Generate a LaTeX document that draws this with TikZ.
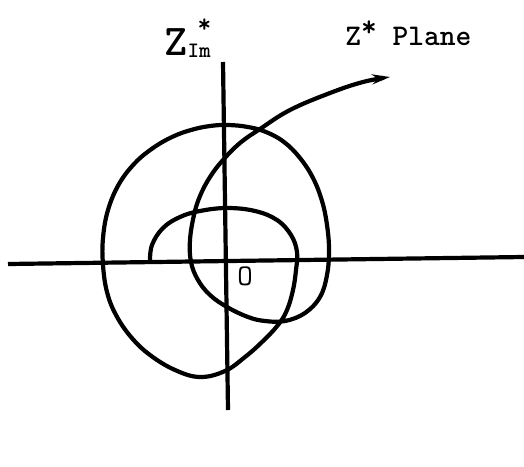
\documentclass[tikz,border=0pt]{standalone}
\usetikzlibrary{arrows.meta}
\begin{document}
\begin{tikzpicture}[x=0.5pt,y=-0.5pt,
  axis/.style={line width=2.1pt},
  curve/.style={line width=2.1pt, line join=round},
  lbl/.style={inner sep=0pt, font=\ttfamily\bfseries}]
\useasboundingbox (0,0) rectangle (524,466);
% axes
\coordinate (vtop) at (223,62);
\coordinate (vbot) at (228,410);
\coordinate (hleft) at (8,264);
\coordinate (hright) at (524,257);
\draw[axis] (vtop) -- (vbot);
\draw[axis] (hleft) -- (hright);
% spiral
\draw[curve, -{Stealth[length=9pt,width=5pt]}] plot[smooth, tension=0.65] coordinates {
 (150,262) (152,245) (163,228) (180,217) (200,211) (227,208) (255,211)
 (277,220) (291,235) (297,252) (296,270) (293,290) (287,310) (278,325)
 (262,342) (245,357) (225,371) (200,377) (175,370) (150,355) (131,337)
 (116,315) (107,292) (103,265) (103,238) (108,210) (119,184) (135,163)
 (153,148) (172,137) (191,130) (210,126) (228,125) (248,127) (266,132)
 (284,142) (300,158) (313,178) (322,201) (327,225) (329,250) (327,275)
 (320,297) (305,313) (285,321) (265,321) (248,317) (227,307) (210,295)
 (198,280) (191,262) (190,240) (194,215) (200,196) (210,177) (223,160)
 (240,143) (260,129) (290,110) (330,93) (363,82) (390,77)};
% labels
\node[lbl, anchor=base west] (zim) at (164,55)
  {{\fontsize{22pt}{26pt}\selectfont Z}\rlap{\hspace{5pt}\raisebox{11.5pt}{\fontsize{13pt}{15pt}\selectfont *}}\raisebox{-1pt}{\fontsize{11pt}{13pt}\selectfont Im}};
\node[lbl, anchor=base west, font=\fontsize{15pt}{18pt}\ttfamily\bfseries] (plane) at (345,45)
  {Z\raisebox{0.3em}{*} Plane};
\node[inner sep=0pt, font=\fontsize{15pt}{18pt}\ttfamily] (orig) at (245,276) {O};
\end{tikzpicture}
\end{document}
